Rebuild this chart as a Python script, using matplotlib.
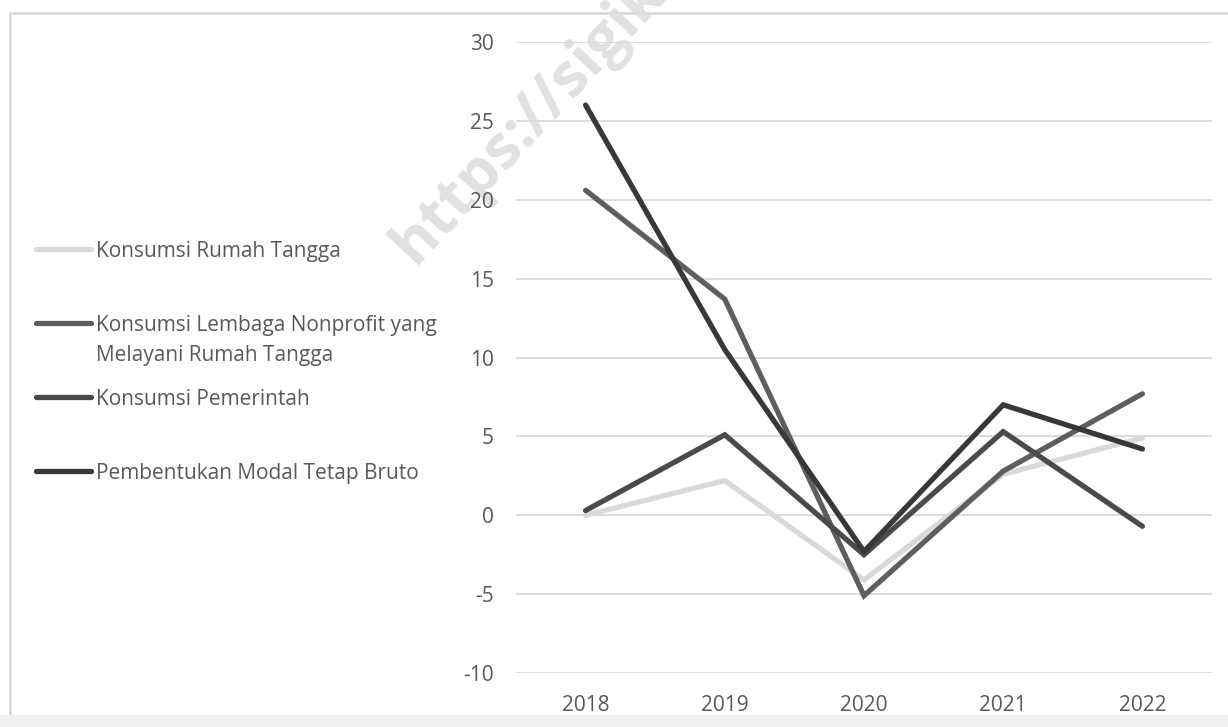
import matplotlib
matplotlib.use("Agg")
import matplotlib.pyplot as plt
from matplotlib.lines import Line2D
from matplotlib.patches import Rectangle

plt.rcParams['font.family'] = ['Open Sans', 'DejaVu Sans']
plt.rcParams['axes.unicode_minus'] = False

# data
years = ['2018', '2019', '2020', '2021', '2022']
rumah_tangga = [0.0, 2.2, -4.1, 2.6, 4.9]
lembaga_nonprofit = [20.6, 13.7, -5.1, 2.8, 7.7]
pemerintah = [0.3, 5.1, -2.5, 5.3, -0.7]
pmtb = [26.0, 10.5, -2.3, 7.0, 4.2]

series = [
    ('Konsumsi Rumah Tangga', rumah_tangga, '#d9d9d9'),
    ('Konsumsi Lembaga Nonprofit yang\nMelayani Rumah Tangga', lembaga_nonprofit, '#5e5e5e'),
    ('Konsumsi Pemerintah', pemerintah, '#4a4a4a'),
    ('Pembentukan Modal Tetap Bruto', pmtb, '#383838'),
]

W, H = 1228, 727
fig = plt.figure(figsize=(W / 100, H / 100), dpi=100)
fig.patch.set_facecolor('white')

# chart frame
fig.add_artist(Rectangle((10 / W, -0.1), 1.2, 1.1 - 13 / H, transform=fig.transFigure,
                         fill=False, edgecolor='#d9d9d9', linewidth=2, zorder=-2))
fig.add_artist(Rectangle((0, 0), 1, 12 / H, transform=fig.transFigure,
                         facecolor='#f0f0f0', edgecolor='none', zorder=-2))

# watermark
fig.text(414 / W, 1 - 266 / H, 'https://sigik', fontsize=44, fontweight='bold',
         color='#e1e1e1', rotation=47, rotation_mode='anchor', ha='left', va='baseline',
         zorder=-1)

ax = fig.add_axes([516 / W, 1 - 673 / H, (1212 - 516) / W, (673 - 42) / H])
ax.patch.set_alpha(0)

x = range(len(years))
lines = []
for label, vals, color in series:
    ln, = ax.plot(x, vals, color=color, linewidth=3.8, solid_capstyle='round',
                  solid_joinstyle='miter', zorder=3)
    lines.append(ln)

ax.set_xlim(-0.5, len(years) - 0.5)
ax.set_ylim(-10, 30)
ax.set_yticks(range(-10, 31, 5))
ax.set_xticks(list(x))
ax.set_xticklabels(years)
ax.yaxis.grid(True, color='#d9d9d9', linewidth=1.3)
ax.set_axisbelow(True)
for s in ax.spines.values():
    s.set_visible(False)
ax.tick_params(length=0, labelsize=15, colors='#595959')
ax.tick_params(axis='x', pad=16)
ax.tick_params(axis='y', pad=16)

# legend drawn on the left, Excel style
entry_y = [249, 323, 397, 471]
for (label, vals, color), ln, yy in zip(series, lines, entry_y):
    yf = 1 - yy / H
    fig.add_artist(Line2D([36 / W, 91 / W], [yf, yf], transform=fig.transFigure,
                          color=color, linewidth=3.8, solid_capstyle='round'))
    fig.text(96 / W, 1 - (yy - 8) / H, label, fontsize=15, color='#595959',
             ha='left', va='top', linespacing=1.55)

fig.savefig('out.png', dpi=100)
